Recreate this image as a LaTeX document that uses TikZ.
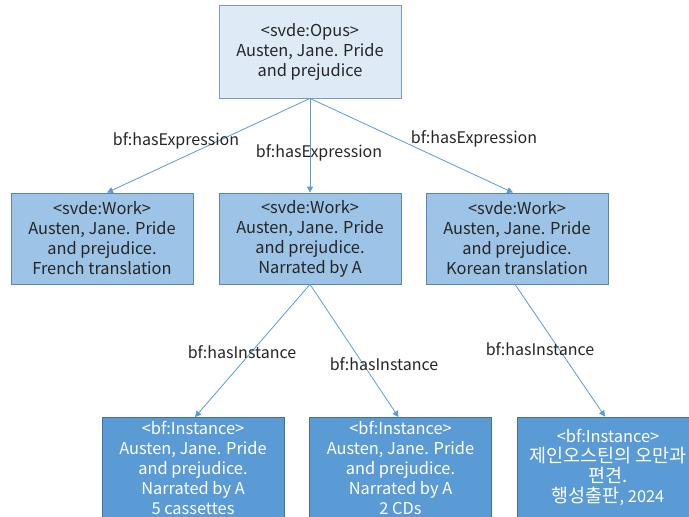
\documentclass[tikz,border=0pt]{standalone}
\usepackage{fontspec}
\setmainfont{Noto Sans CJK KR}
\usetikzlibrary{arrows.meta}
\definecolor{opusfill}{HTML}{DEEBF7}
\definecolor{opusline}{HTML}{7A9CC6}
\definecolor{workfill}{HTML}{9DC3E6}
\definecolor{workline}{HTML}{5B84B8}
\definecolor{instfill}{HTML}{5B9BD5}
\definecolor{instline}{HTML}{41719C}
\definecolor{arrowc}{HTML}{5B9BD5}
\definecolor{txt}{HTML}{262626}
\newcommand{\kor}{\fontsize{18.5}{20}\selectfont}
\tikzset{
  box/.style={draw, line width=0.8pt, inner sep=0pt, minimum width=182pt, align=center,
    font=\fontsize{16.4}{20}\selectfont, text=txt},
  opusbox/.style={box, fill=opusfill, draw=opusline, minimum height=93pt},
  workbox/.style={box, fill=workfill, draw=workline, minimum height=91pt},
  instbox/.style={box, fill=instfill, draw=instline, minimum height=100pt, text=white},
  rel/.style={draw=arrowc, line width=0.8pt, -{Triangle[length=6pt,width=6pt]}},
  lbl/.style={font=\fontsize{16}{18}\selectfont, text=txt, inner sep=0pt}
}
\begin{document}
\begin{tikzpicture}[x=1pt,y=-1pt]
\useasboundingbox (0,0) rectangle (689,517);
\clip (0,0) rectangle (689,517);
\node[opusbox] (opus) at (310,51.5) {<svde:Opus>\\Austen, Jane. Pride\\and prejudice};
\node[workbox] (w1) at (102,238.5) {<svde:Work>\\Austen, Jane. Pride\\and prejudice.\\French translation};
\node[workbox] (w2) at (310,238.5) {<svde:Work>\\Austen, Jane. Pride\\and prejudice.\\Narrated by A};
\node[workbox] (w3) at (517,238.5) {<svde:Work>\\Austen, Jane. Pride\\and prejudice.\\Korean translation};
\node[instbox] (i1) at (193,467.5) {<bf:Instance>\\Austen, Jane. Pride\\and prejudice.\\Narrated by A\\5 cassettes};
\node[instbox] (i2) at (400.5,467.5) {<bf:Instance>\\Austen, Jane. Pride\\and prejudice.\\Narrated by A\\2 CDs};
\node[instbox] (i3) at (608,467) {<bf:Instance>\\{\kor 제인오스틴의 오만과}\\{\kor 편견.}\\{\kor 행성출판}, 2024};

\draw[rel] (opus.south) -- ([xshift=5pt]w1.north);
\draw[rel] (opus.south) -- (w2.north);
\draw[rel] (opus.south) -- ([xshift=-4pt]w3.north);
\draw[rel] (w2.south) -- ([xshift=2pt]i1.north);
\draw[rel] (w2.south) -- ([xshift=-2pt]i2.north);
\draw[rel] ([xshift=-2pt]w3.south) -- ([xshift=-3pt]i3.north);

\node[lbl] (l1) at (176,141) {bf:hasExpression};
\node[lbl] (l2) at (319,153) {bf:hasExpression};
\node[lbl] (l3) at (474,139) {bf:hasExpression};
\node[lbl] (l4) at (242,352) {bf:hasInstance};
\node[lbl] (l5) at (384,364) {bf:hasInstance};
\node[lbl] (l6) at (540,349) {bf:hasInstance};
\end{tikzpicture}
\end{document}
